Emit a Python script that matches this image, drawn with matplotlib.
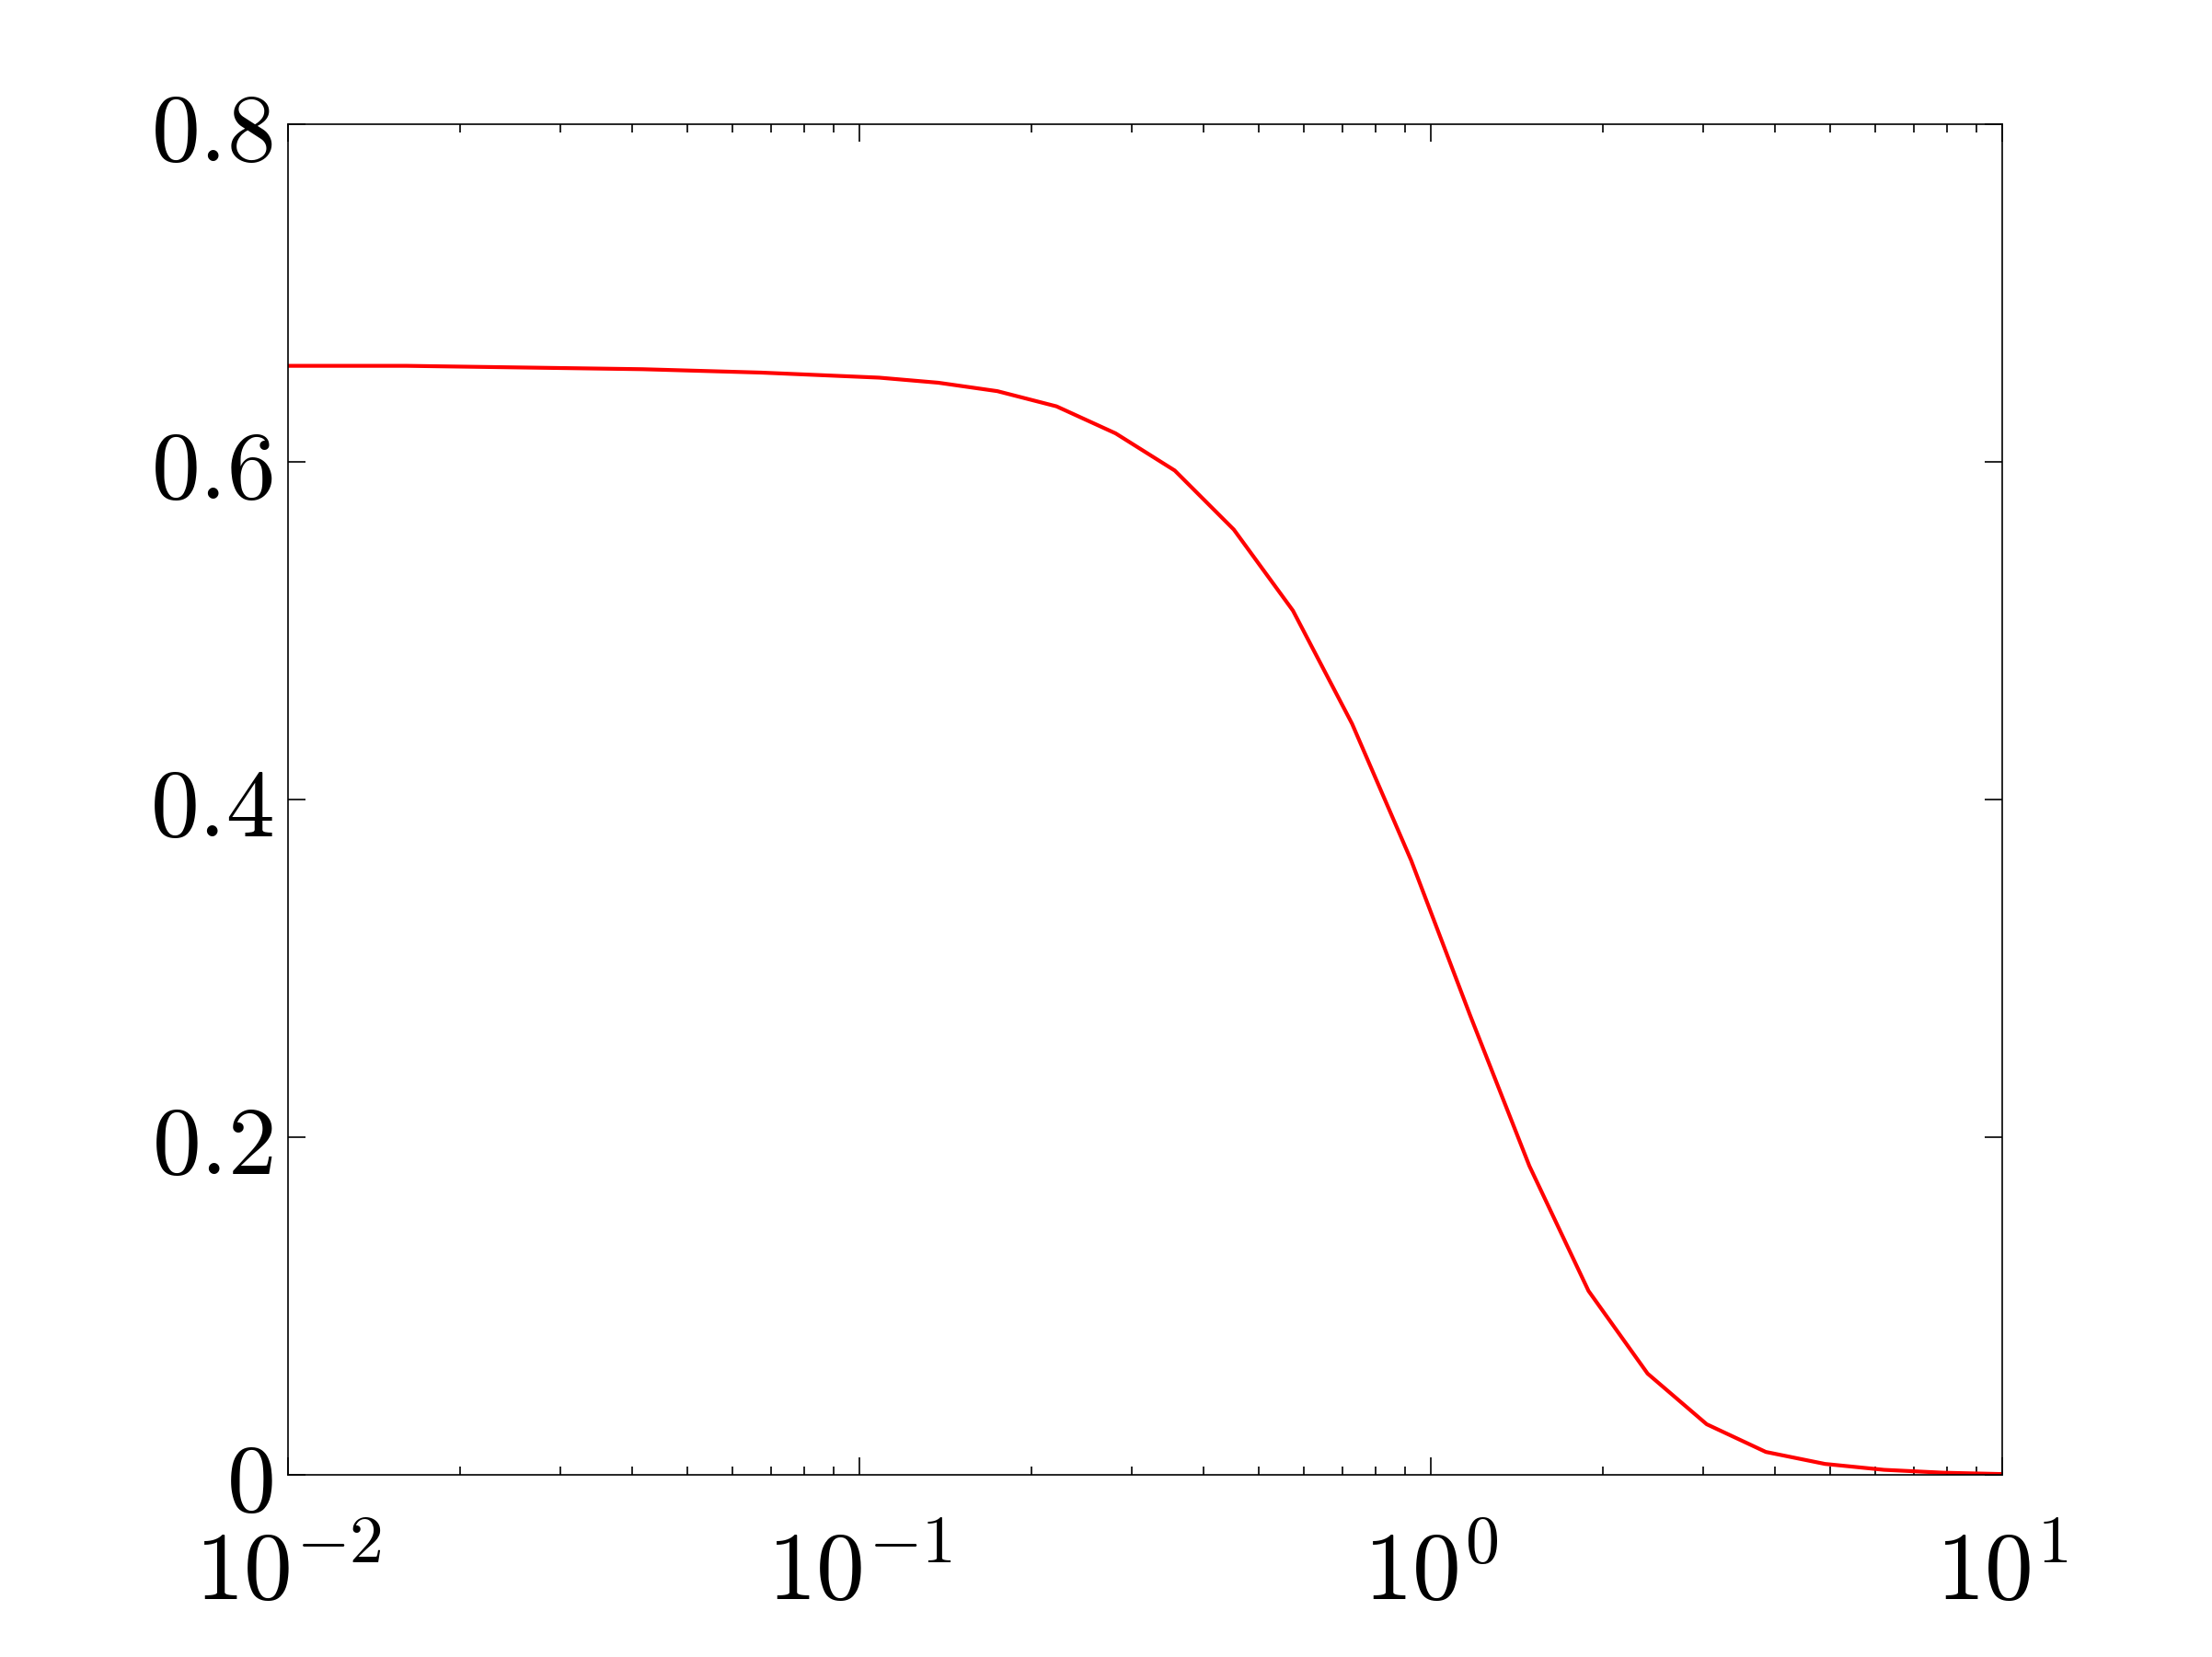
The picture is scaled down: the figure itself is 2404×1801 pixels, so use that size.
import numpy as np
import matplotlib
matplotlib.use("Agg")
import matplotlib.pyplot as plt
from matplotlib.ticker import FixedLocator, FixedFormatter, LogLocator, NullFormatter

plt.rcParams['mathtext.fontset'] = 'cm'

# sample points (log spaced, 10^-2 .. 10^1) and curve values
x = np.logspace(-2, 1, 30)
y = [0.657, 0.657, 0.657, 0.6565, 0.656, 0.6555, 0.655, 0.654, 0.653, 0.6515,
     0.650, 0.647, 0.642, 0.633, 0.617, 0.595, 0.560, 0.512, 0.445, 0.364,
     0.272, 0.183, 0.109, 0.060, 0.030, 0.0136, 0.0065, 0.003, 0.0013, 0.0005]

yticks = [0, 0.2, 0.4, 0.6, 0.8]
ytick_labels = ['$0$', '$0.2$', '$0.4$', '$0.6$', '$0.8$']
xticks = [1e-2, 1e-1, 1e0, 1e1]
xtick_labels = ['$10^{-2}$', '$10^{-1}$', '$10^{0}$', '$10^{1}$']

fig = plt.figure(figsize=(12.02, 9.005), dpi=200)
ax = fig.add_axes([0.1302, 0.1099, 0.775, 0.815])

ax.plot(x, y, color='red', lw=1.5)

ax.set_xscale('log')
ax.set_xlim(1e-2, 1e1)
ax.set_ylim(0, 0.8)

ax.xaxis.set_major_locator(FixedLocator(xticks))
ax.xaxis.set_major_formatter(FixedFormatter(xtick_labels))
ax.xaxis.set_minor_locator(LogLocator(base=10, subs=np.arange(2, 10)))
ax.xaxis.set_minor_formatter(NullFormatter())
ax.yaxis.set_major_locator(FixedLocator(yticks))
ax.yaxis.set_major_formatter(FixedFormatter(ytick_labels))

ax.tick_params(which='both', direction='in', top=True, right=True, width=0.6)
ax.tick_params(which='major', length=6.8)
ax.tick_params(which='minor', length=3.4)
ax.tick_params(axis='x', which='major', labelsize=38, pad=20)
ax.tick_params(axis='y', which='major', labelsize=38, pad=6)

for s in ax.spines.values():
    s.set_linewidth(0.6)

plt.savefig("out.png", dpi=200)
